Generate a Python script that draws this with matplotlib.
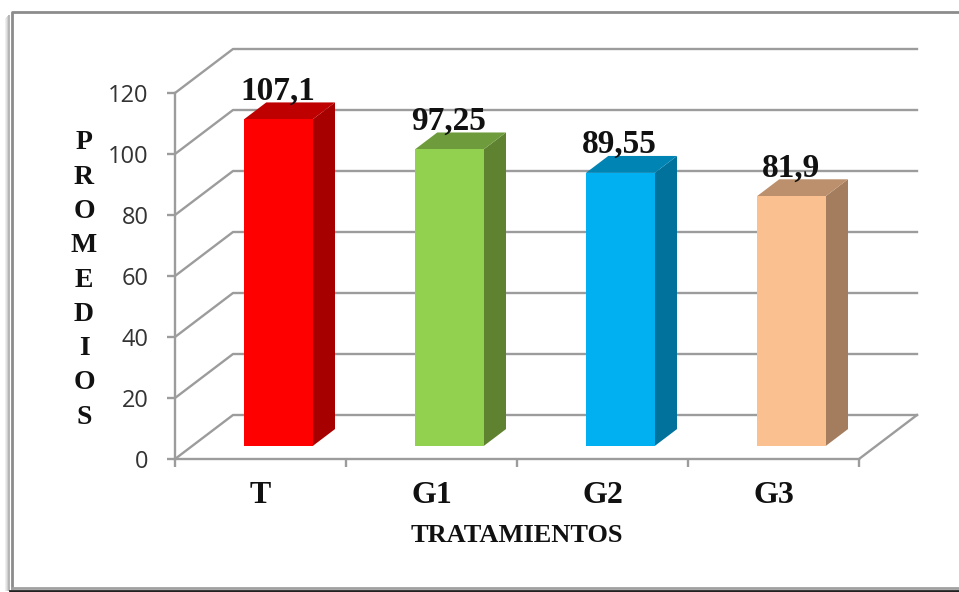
import matplotlib.pyplot as plt
from matplotlib.lines import Line2D
from matplotlib.patches import Polygon

categories = ["T", "G1", "G2", "G3"]
values = [107.1, 97.25, 89.55, 81.9]
value_labels = ["107,1", "97,25", "89,55", "81,9"]
y_ticks = [0, 20, 40, 60, 80, 100, 120]
x_title = "TRATAMIENTOS"
y_title = "PROMEDIOS"

front_colors = ["#FF0000", "#92D050", "#00B0F0", "#FAC090"]
top_colors = ["#BF0000", "#6E9C3C", "#0084B4", "#BC906C"]
side_colors = ["#A60000", "#5F8230", "#00729C", "#A37D5E"]

GRID = "#9C9C9C"
W, H = 959, 592


def skew(x, y, depth):
    # oblique projection: depth 1 is the back wall
    return (x + depth * 58 / 171, y + depth * 44 / 3.05)


fig = plt.figure(figsize=(W / 100, H / 100), dpi=100)
ax = fig.add_axes([175 / W, 1 - 459 / H, 684 / W, 366 / H])
ax.set_xlim(0, 4)
ax.set_ylim(0, 120)
ax.patch.set_visible(False)

# back wall gridlines and the floor
for v in y_ticks:
    x0, y0 = skew(0, v, 1)
    x1, y1 = skew(4, v, 1)
    ax.plot([0, x0, x1], [v, y0, y1], color=GRID, lw=1.7, clip_on=False, zorder=1)
x1, y1 = skew(4, 0, 1)
ax.plot([4, x1], [0, y1], color=GRID, lw=1.7, clip_on=False, zorder=1)

# 3d bars
d0, d1 = 0.295, 0.68
for i, v in enumerate(values):
    xl, xr = i + 0.303, i + 0.705
    front = [skew(xl, 0, d0), skew(xr, 0, d0), skew(xr, v, d0), skew(xl, v, d0)]
    side = [skew(xr, 0, d0), skew(xr, 0, d1), skew(xr, v, d1), skew(xr, v, d0)]
    top = [skew(xl, v, d0), skew(xr, v, d0), skew(xr, v, d1), skew(xl, v, d1)]
    ax.add_patch(Polygon(side, fc=side_colors[i], ec="none", zorder=3, clip_on=False))
    ax.add_patch(Polygon(top, fc=top_colors[i], ec="none", zorder=3, clip_on=False))
    ax.add_patch(Polygon(front, fc=front_colors[i], ec="none", zorder=4, clip_on=False))
    ax.annotate(value_labels[i], (i + 0.6, v), xytext=(0, 23.5), textcoords="offset points",
                ha="center", va="baseline", family="Liberation Serif", weight="bold",
                fontsize=24, color="#111111", zorder=5)

for s in ["top", "right"]:
    ax.spines[s].set_visible(False)
for s in ["left", "bottom"]:
    ax.spines[s].set_color(GRID)
    ax.spines[s].set_linewidth(1.7)

ax.set_yticks(y_ticks)
ax.tick_params(axis="y", length=6, width=1.7, color=GRID, labelsize=17, labelcolor="#333333", pad=13)
for lab in ax.get_yticklabels():
    lab.set_family("Open Sans")

ax.set_xticks(range(5))
ax.set_xticklabels([])
ax.tick_params(axis="x", which="major", length=6, width=1.7, color=GRID)
ax.set_xticks([i + 0.5 for i in range(4)], minor=True)
ax.set_xticklabels(categories, minor=True, family="Liberation Serif", weight="bold", fontsize=23, color="#111111")
ax.tick_params(axis="x", which="minor", length=0, pad=16)

fig.text(517 / W, 1 - 536 / H, x_title, ha="center", va="center", family="Liberation Serif",
         weight="bold", fontsize=19, color="#111111")
fig.text(84 / W, 1 - 280 / H, "\n".join(y_title), ha="center", va="center", family="Liberation Serif",
         weight="bold", fontsize=20, color="#111111", linespacing=1.49)

# picture frame with its soft shadow
for off, col in [(5, "#EFEFEF"), (4, "#E2E2E2"), (3, "#CFCFCF"), (2, "#B5B5B5")]:
    fig.add_artist(Line2D([(11 - off) / W] * 2, [1 - (14 + off) / H, 1 - 590 / H], color=col, lw=1.4))
fig.add_artist(Line2D([12 / W, 12 / W, 1], [1 - 588 / H, 1 - 12 / H, 1 - 12 / H], color="#8C8C8C", lw=2))
fig.add_artist(Line2D([12 / W, 1], [1 - 587.5 / H] * 2, color="#A0A0A0", lw=2))
fig.add_artist(Line2D([10 / W, 1], [1 - 591 / H] * 2, color="#222222", lw=2))

fig.savefig("out.png", dpi=100)
